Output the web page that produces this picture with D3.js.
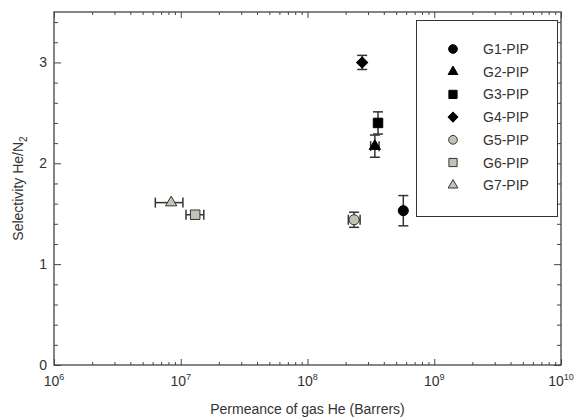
<!DOCTYPE html>
<html>
<head>
<meta charset="utf-8">
<script src="https://cdn.jsdelivr.net/npm/d3@7"></script>
<style>
  body { margin: 0; background: #fff; }
  text { font-family: "Liberation Sans", Arial, sans-serif; fill: #333; }
</style>
</head>
<body>
<div id="chart"></div>
<script>
// samples
const groups = ['G1-PIP', 'G2-PIP', 'G3-PIP', 'G4-PIP', 'G5-PIP', 'G6-PIP', 'G7-PIP'];
const symbols = ['circle', 'triangle', 'square', 'diamond', 'circle', 'square', 'triangle'];
const fills = ['#000', '#000', '#000', '#000', '#c2c2b6', '#c2c2b6', '#c2c2b6'];
// permeance of He (Barrers) and selectivity He/N2
const permeance = [5.7e8, 3.4e8, 3.6e8, 2.7e8, 2.33e8, 1.3e7, 8.4e6];
const selectivity = [1.53, 2.17, 2.40, 3.00, 1.44, 1.49, 1.61];
const selErr = [0.15, 0.11, 0.11, 0.07, 0.075, 0, 0];
const permLow = [null, 3.15e8, null, null, 2.10e8, 1.10e7, 6.3e6];
const permHigh = [null, 3.67e8, null, null, 2.60e8, 1.52e7, 1.04e7];
const xMajor = [1e6, 1e7, 1e8, 1e9, 1e10];
const yMajor = [0, 1, 2, 3];

const W = 576, H = 420;
const plotLeft = 54, plotRight = 561, plotTop = 12, plotBottom = 365;

const svg = d3.select('#chart').append('svg')
    .attr('width', W)
    .attr('height', H);

const x = d3.scaleLog().domain([1e6, 1e10]).range([plotLeft, plotRight]);
const y = d3.scaleLinear().domain([0, 3.5]).range([plotBottom, plotTop]);

const axisColor = '#444';

// minor ticks (inward, all four sides)
const xMinor = x.ticks().filter(v => !xMajor.includes(v));
const yMinor = d3.range(1, 18).map(i => +(i * 0.2).toFixed(1)).filter(v => !yMajor.includes(v));

function drawAxis(axis, transform, size) {
    const g = svg.append('g')
        .attr('transform', transform)
        .call(axis.tickSize(size).tickFormat(''));
    g.select('.domain').remove();
    g.selectAll('line').attr('stroke', axisColor);
    return g;
}

drawAxis(d3.axisBottom(x).tickValues(xMinor), `translate(0,${plotBottom})`, -3);
drawAxis(d3.axisBottom(x).tickValues(xMajor), `translate(0,${plotBottom})`, -6);
drawAxis(d3.axisTop(x).tickValues(xMinor), `translate(0,${plotTop})`, -3);
drawAxis(d3.axisTop(x).tickValues(xMajor), `translate(0,${plotTop})`, -6);
drawAxis(d3.axisLeft(y).tickValues(yMinor), `translate(${plotLeft},0)`, -4);
drawAxis(d3.axisLeft(y).tickValues(yMajor), `translate(${plotLeft},0)`, -7);
drawAxis(d3.axisRight(y).tickValues(yMinor), `translate(${plotRight},0)`, -4);
drawAxis(d3.axisRight(y).tickValues(yMajor), `translate(${plotRight},0)`, -7);

// frame
svg.append('rect')
    .attr('x', plotLeft).attr('y', plotTop)
    .attr('width', plotRight - plotLeft).attr('height', plotBottom - plotTop)
    .attr('fill', 'none')
    .attr('stroke', axisColor)
    .attr('stroke-width', 1.3);

// x tick labels 10^n
xMajor.forEach(v => {
    const t = svg.append('text')
        .attr('x', x(v))
        .attr('y', 386)
        .attr('text-anchor', 'middle')
        .style('font-size', '14px');
    t.append('tspan').text('10');
    t.append('tspan')
        .attr('dy', -6)
        .style('font-size', '9px')
        .text(Math.round(Math.log10(v)));
});

// y tick labels
svg.selectAll('.ylab')
    .data(yMajor)
    .enter()
    .append('text')
    .attr('x', plotLeft - 7)
    .attr('y', d => y(d) + 5)
    .attr('text-anchor', 'end')
    .style('font-size', '14px')
    .text(d => d);

// axis titles
svg.append('text')
    .attr('x', (plotLeft + plotRight) / 2)
    .attr('y', 414)
    .attr('text-anchor', 'middle')
    .style('font-size', '14px')
    .text('Permeance of gas He (Barrers)');

const yt = svg.append('text')
    .attr('transform', `translate(23,${(plotTop + plotBottom) / 2}) rotate(-90)`)
    .attr('text-anchor', 'middle')
    .style('font-size', '14px');
yt.append('tspan').text('Selectivity He/N');
yt.append('tspan').attr('dy', 4).style('font-size', '10px').text('2');

// error bars
const errColor = '#333';
const cap = 5;
groups.forEach((g, i) => {
    const cx = x(permeance[i]);
    const cy = y(selectivity[i]);
    if (selErr[i] > 0) {
        const y1 = y(selectivity[i] + selErr[i]);
        const y2 = y(selectivity[i] - selErr[i]);
        svg.append('line').attr('x1', cx).attr('x2', cx).attr('y1', y1).attr('y2', y2)
            .attr('stroke', errColor).attr('stroke-width', 1.5);
        [y1, y2].forEach(yy => svg.append('line')
            .attr('x1', cx - cap).attr('x2', cx + cap).attr('y1', yy).attr('y2', yy)
            .attr('stroke', errColor).attr('stroke-width', 1.5));
    }
    if (permLow[i] !== null) {
        const x1 = x(permLow[i]);
        const x2 = x(permHigh[i]);
        svg.append('line').attr('x1', x1).attr('x2', x2).attr('y1', cy).attr('y2', cy)
            .attr('stroke', errColor).attr('stroke-width', 1.5);
        [x1, x2].forEach(xx => svg.append('line')
            .attr('x1', xx).attr('x2', xx).attr('y1', cy - cap).attr('y2', cy + cap)
            .attr('stroke', errColor).attr('stroke-width', 1.5));
    }
});

const symbolTypes = {
    circle: d3.symbolCircle,
    triangle: d3.symbolTriangle,
    square: d3.symbolSquare,
    diamond: d3.symbolSquare
};
const symbolSizes = { circle: 80, triangle: 55, square: 90, diamond: 62 };

function marker(sel, i, scale, cx, cy) {
    const s = symbols[i];
    const rot = s === 'diamond' ? ' rotate(45)' : '';
    return sel.append('path')
        .attr('d', d3.symbol().type(symbolTypes[s]).size(symbolSizes[s] * scale)())
        .attr('transform', `translate(${cx},${cy})${rot}`)
        .attr('fill', fills[i])
        .attr('stroke', fills[i] === '#000' ? '#000' : '#333')
        .attr('stroke-width', 1);
}

groups.forEach((g, i) => {
    marker(svg, i, 1, x(permeance[i]), y(selectivity[i]));
});

// legend
const legend = svg.append('g');
legend.append('rect')
    .attr('x', 416.5).attr('y', 20.5)
    .attr('width', 141).attr('height', 196)
    .attr('fill', '#fff')
    .attr('stroke', '#333')
    .attr('stroke-width', 1);

groups.forEach((g, i) => {
    const ly = 49 + i * 22.7;
    marker(legend, i, 0.75, 453, ly);
    legend.append('text')
        .attr('x', 483)
        .attr('y', ly + 5)
        .style('font-size', '14px')
        .text(g);
});
</script>
</body>
</html>
